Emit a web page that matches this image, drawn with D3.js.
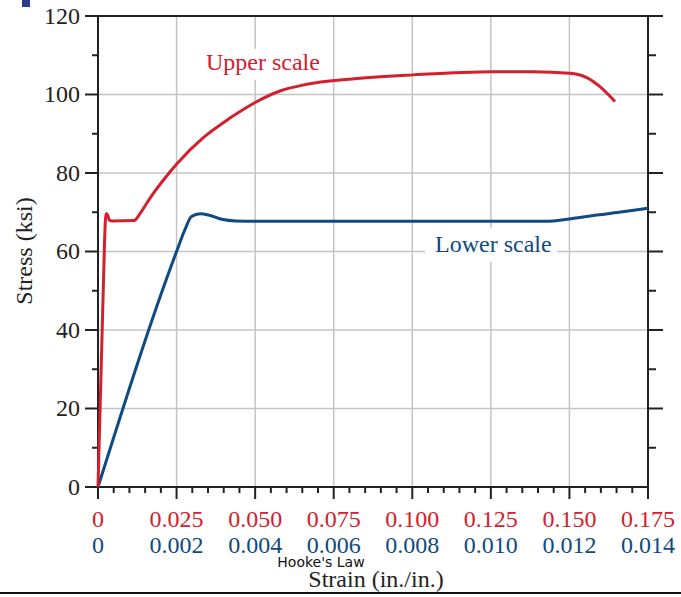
<!DOCTYPE html>
<html lang="en-US">
  <head>
    <meta charset="utf-8">
    <title>Stress-strain</title>
    <style>
      body { margin: 0; background: white; }
      svg { display: block; }
    </style>
  </head>
  <body>
  <div id="my_dataviz"></div>
  <script src="https://d3js.org/d3.v7.min.js"></script>
  <script>

    // data (strain in in./in., stress in ksi)
    var upperStrain = [0, 0.0021, 0.0024, 0.0027, 0.0031, 0.0036, 0.0045, 0.0115, 0.0134, 0.0155, 0.0176, 0.0214, 0.0254, 0.0335, 0.042, 0.0503, 0.0579, 0.0664, 0.08, 0.1003, 0.1253, 0.1384, 0.15, 0.1555, 0.1597, 0.1645]
    var upperStress = [0, 63, 68.5, 69.7, 69.2, 68.0, 67.8, 67.9, 69.7, 72.3, 74.8, 78.8, 82.6, 89.0, 94.0, 98.1, 100.9, 102.6, 103.9, 105.0, 105.8, 105.8, 105.4, 104.3, 102.0, 98.2]

    var lowerStrain = [0, 0.0020, 0.00221, 0.00238, 0.0026, 0.00281, 0.00315, 0.0035, 0.0045, 0.0114, 0.012, 0.0127, 0.01336, 0.014]
    var lowerStress = [0, 60, 65.5, 68.9, 69.6, 69.3, 68.2, 67.8, 67.7, 67.7, 68.3, 69.3, 70.1, 71]

    var upperTicks = ["0", "0.025", "0.050", "0.075", "0.100", "0.125", "0.150", "0.175"]
    var lowerTicks = ["0", "0.002", "0.004", "0.006", "0.008", "0.010", "0.012", "0.014"]
    var stressTicks = [0, 20, 40, 60, 80, 100, 120]

    var width = 681, height = 597
    var pLeft = 98, pRight = 648, pTop = 16, pBottom = 487

    var red = "#d2202e", blue = "#0f4a82"
    var serif = "'Liberation Serif', 'Times New Roman', serif"

    var svg = d3.select("#my_dataviz")
      .append("svg")
        .attr("width", width)
        .attr("height", height)

    // scales: both strain scales share the same pixel range
    var xUpper = d3.scaleLinear().domain([0, 0.175]).range([pLeft, pRight])
    var xLower = d3.scaleLinear().domain([0, 0.014]).range([pLeft, pRight])
    var y = d3.scaleLinear().domain([0, 120]).range([pBottom, pTop])

    // grid
    var grid = svg.append("g").attr("stroke", "#c4c4c4").attr("stroke-width", 1.5)
    grid.selectAll(".gx")
      .data(d3.range(1, 7).map(function(i) { return i * 0.025 }))
      .enter().append("line")
        .attr("x1", function(d) { return xUpper(d) })
        .attr("x2", function(d) { return xUpper(d) })
        .attr("y1", y(0)).attr("y2", y(120))
    grid.selectAll(".gy")
      .data([20, 40, 60, 80, 100])
      .enter().append("line")
        .attr("x1", pLeft).attr("x2", pRight)
        .attr("y1", function(d) { return y(d) })
        .attr("y2", function(d) { return y(d) })

    // white boxes behind the curve labels
    svg.append("rect").attr("x", 200).attr("y", 49).attr("width", 128).attr("height", 31).attr("fill", "white")
    svg.append("rect").attr("x", 425).attr("y", 228).attr("width", 132).attr("height", 34).attr("fill", "white")

    // axes frame
    var ax = svg.append("g").attr("stroke", "#222").attr("stroke-width", 2).attr("fill", "none")
    ax.append("line").attr("x1", pLeft).attr("x2", pLeft).attr("y1", y(0)).attr("y2", y(120))
    ax.append("line").attr("x1", pRight).attr("x2", pRight).attr("y1", y(0) + 12).attr("y2", y(120))
    ax.append("line").attr("x1", pLeft - 13).attr("x2", pRight + 15).attr("y1", y(120)).attr("y2", y(120))
    ax.append("line").attr("x1", pLeft - 13).attr("x2", pRight).attr("y1", y(0)).attr("y2", y(0))

    // y ticks, left (out) and right (out)
    var yMinor = d3.range(10, 120, 10)
    ax.selectAll(".yl")
      .data(yMinor)
      .enter().append("line")
        .attr("x1", function(d) { return d % 20 == 0 ? pLeft - 13 : pLeft - 6 })
        .attr("x2", pLeft)
        .attr("y1", function(d) { return y(d) })
        .attr("y2", function(d) { return y(d) })
    ax.selectAll(".yr")
      .data(yMinor)
      .enter().append("line")
        .attr("x1", pRight)
        .attr("x2", function(d) { return d % 20 == 0 ? pRight + 15 : pRight + 8 })
        .attr("y1", function(d) { return y(d) })
        .attr("y2", function(d) { return y(d) })

    // x ticks, below the axis
    ax.selectAll(".xt")
      .data(d3.range(0, 36))
      .enter().append("line")
        .attr("x1", function(d) { return xUpper(d * 0.005) })
        .attr("x2", function(d) { return xUpper(d * 0.005) })
        .attr("y1", y(0))
        .attr("y2", function(d) { return d % 5 == 0 ? y(0) + 12 : y(0) + 6 })

    // y labels
    svg.selectAll(".ylab")
      .data(stressTicks)
      .enter().append("text")
        .attr("x", 80)
        .attr("y", function(d) { return y(d) })
        .attr("dy", "0.33em")
        .attr("text-anchor", "end")
        .style("font-family", serif)
        .style("font-size", "24px")
        .style("fill", "#222")
        .text(function(d) { return d })

    // x labels, two rows
    svg.selectAll(".xu")
      .data(upperTicks)
      .enter().append("text")
        .attr("x", function(d) { return xUpper(+d) })
        .attr("y", 527)
        .attr("text-anchor", "middle")
        .style("font-family", serif)
        .style("font-size", "24px")
        .style("fill", red)
        .text(function(d) { return d })
    svg.selectAll(".xl")
      .data(lowerTicks)
      .enter().append("text")
        .attr("x", function(d) { return xLower(+d) })
        .attr("y", 553)
        .attr("text-anchor", "middle")
        .style("font-family", serif)
        .style("font-size", "24px")
        .style("fill", blue)
        .text(function(d) { return d })

    // curves
    var upperLine = d3.line()
      .x(function(d, i) { return xUpper(upperStrain[i]) })
      .y(function(d, i) { return y(upperStress[i]) })
      .curve(d3.curveMonotoneX)
    var lowerLine = d3.line()
      .x(function(d, i) { return xLower(lowerStrain[i]) })
      .y(function(d, i) { return y(lowerStress[i]) })
      .curve(d3.curveMonotoneX)

    svg.append("path")
      .attr("d", lowerLine(lowerStrain))
      .attr("fill", "none")
      .attr("stroke", blue)
      .attr("stroke-width", 3)
    svg.append("path")
      .attr("d", upperLine(upperStrain))
      .attr("fill", "none")
      .attr("stroke", red)
      .attr("stroke-width", 3)

    // curve labels
    svg.append("text")
      .attr("x", 206).attr("y", 70)
      .style("font-family", serif).style("font-size", "24px").style("fill", red)
      .text("Upper scale")
    svg.append("text")
      .attr("x", 435).attr("y", 252)
      .style("font-family", serif).style("font-size", "24px").style("fill", blue)
      .text("Lower scale")

    // axis titles
    svg.append("text")
      .attr("transform", "translate(32,251) rotate(-90)")
      .attr("text-anchor", "middle")
      .style("font-family", serif).style("font-size", "24px").style("fill", "#222")
      .text("Stress (ksi)")
    svg.append("text")
      .attr("x", 376).attr("y", 587)
      .attr("text-anchor", "middle")
      .style("font-family", serif).style("font-size", "24px").style("fill", "#222")
      .text("Strain (in./in.)")
    svg.append("text")
      .attr("x", 321).attr("y", 567)
      .attr("text-anchor", "middle")
      .style("font-family", "'DejaVu Sans', sans-serif").style("font-size", "14px").style("fill", "#111")
      .text("Hooke's Law")

    // bits around the edges
    svg.append("rect").attr("x", 22).attr("y", 0).attr("width", 8).attr("height", 7).attr("fill", "#2a3b8f")
    svg.append("line").attr("x1", 0).attr("x2", width).attr("y1", 593).attr("y2", 593)
      .attr("stroke", "#111").attr("stroke-width", 2)

</script>
  </body>
</html>
